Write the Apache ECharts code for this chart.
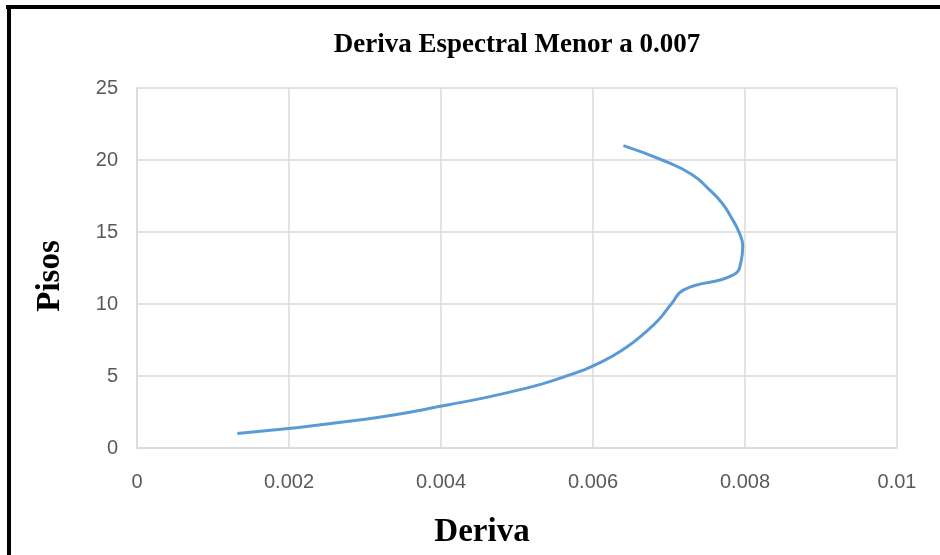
<!DOCTYPE html>
<html>
<head>
<meta charset="utf-8">
<script src="https://cdn.jsdelivr.net/npm/echarts@6/dist/echarts.min.js"></script>
<style>
  html, body { margin: 0; padding: 0; background: #fff; }
  #chart { width: 940px; height: 555px; }
</style>
</head>
<body>
<div id="chart"></div>
<script>
// drift per floor
const pisos = [1, 2, 3, 4, 5, 6, 7, 8, 9, 10, 11, 12, 13, 14, 15, 16, 17, 18, 19, 20, 21]
const deriva = [
  0.00132, 0.00300, 0.00410, 0.00500, 0.00565, 0.00612, 0.00644, 0.00668,
  0.00688, 0.00703, 0.00720, 0.00784, 0.00795, 0.00797, 0.00792, 0.00782,
  0.00770, 0.00752, 0.00730, 0.00691, 0.00640,
]
const xTicks = [0, 0.002, 0.004, 0.006, 0.008, 0.01]
const yTicks = [0, 5, 10, 15, 20, 25]

const chart = echarts.init(document.getElementById('chart'), null, { renderer: 'canvas' })

const tickFont = {
  color: '#595959',
  fontFamily: 'Liberation Sans, Arial, sans-serif',
  fontSize: 20,
}
const serifBold = {
  color: '#000',
  fontFamily: 'Liberation Serif, Times New Roman, serif',
  fontWeight: 'bold',
}

const option = {
  backgroundColor: '#fff',
  animation: false,
  title: {
    text: 'Deriva Espectral Menor a 0.007',
    left: 512,
    top: 27,
    textAlign: 'center',
    textStyle: { ...serifBold, fontSize: 27 },
  },
  grid: {
    left: 137,
    right: 43,
    top: 88,
    bottom: 107,
  },
  xAxis: {
    type: 'value',
    min: xTicks[0],
    max: xTicks[xTicks.length - 1],
    interval: 0.002,
    name: 'Deriva',
    nameLocation: 'middle',
    nameGap: 68,
    nameTextStyle: { ...serifBold, fontSize: 33, padding: [0, 70, 0, 0] },
    axisLine: { show: true, lineStyle: { color: '#d9d9d9', width: 1.5 } },
    axisTick: { show: false },
    axisLabel: {
      ...tickFont,
      margin: 24,
      formatter: (v) => (xTicks.includes(v) ? String(+v.toFixed(3)) : ''),
    },
    splitLine: { show: true, lineStyle: { color: '#d9d9d9', width: 1.5 } },
  },
  yAxis: {
    type: 'value',
    min: yTicks[0],
    max: yTicks[yTicks.length - 1],
    interval: 5,
    name: 'Pisos',
    nameLocation: 'middle',
    nameRotate: 90,
    nameGap: 70,
    nameTextStyle: { ...serifBold, fontSize: 33, padding: [0, 16, 0, 0] },
    axisLine: { show: true, lineStyle: { color: '#d9d9d9', width: 1.5 } },
    axisTick: { show: false },
    axisLabel: { ...tickFont, margin: 19 },
    splitLine: { show: true, lineStyle: { color: '#d9d9d9', width: 1.5 } },
  },
  series: [
    {
      type: 'line',
      data: pisos.map((p, i) => [deriva[i], p]),
      smooth: 0.5,
      showSymbol: false,
      lineStyle: { color: '#5b9bd5', width: 3 },
      itemStyle: { color: '#5b9bd5' },
    },
  ],
  graphic: [
    // frame edges of the original screenshot (top and left only)
    { type: 'rect', shape: { x: 6, y: 5, width: 934, height: 4 }, style: { fill: '#000' } },
    { type: 'rect', shape: { x: 7, y: 5, width: 4, height: 550 }, style: { fill: '#000' } },
  ],
}

chart.setOption(option)
</script>
</body>
</html>
